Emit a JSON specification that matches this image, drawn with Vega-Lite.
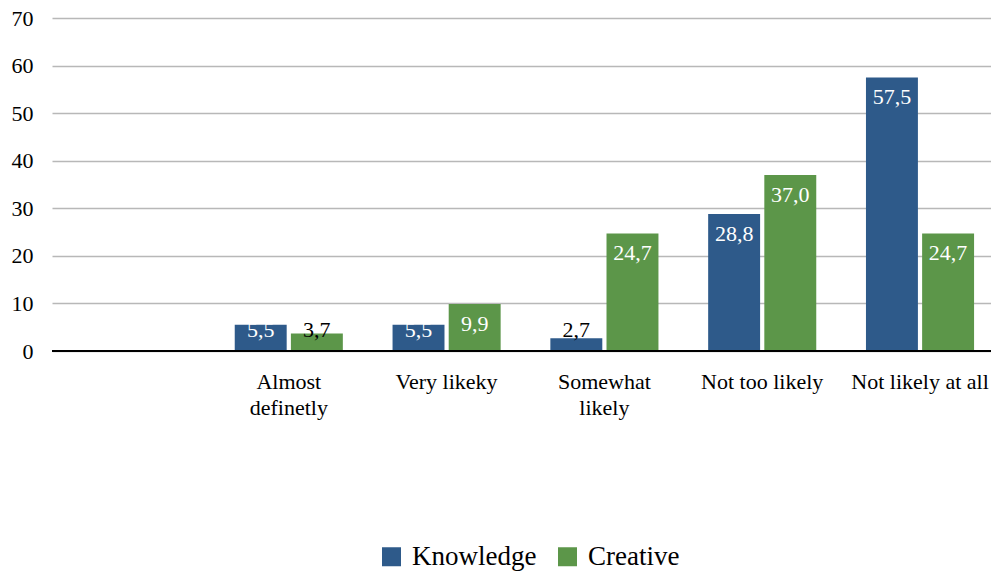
{
  "$schema": "https://vega.github.io/schema/vega-lite/v6.json",
  "width": 947,
  "height": 333,
  "autosize": {"type": "none"},
  "padding": {"left": 52, "top": 18, "right": 0, "bottom": 222},
  "background": "white",
  "data": {
    "values": [
      {"category": "Almost definetly", "group": "Knowledge", "value": 5.5},
      {"category": "Almost definetly", "group": "Creative", "value": 3.7},
      {"category": "Very likeky", "group": "Knowledge", "value": 5.5},
      {"category": "Very likeky", "group": "Creative", "value": 9.9},
      {"category": "Somewhat likely", "group": "Knowledge", "value": 2.7},
      {"category": "Somewhat likely", "group": "Creative", "value": 24.7},
      {"category": "Not too likely", "group": "Knowledge", "value": 28.8},
      {"category": "Not too likely", "group": "Creative", "value": 37.0},
      {"category": "Not likely at all", "group": "Knowledge", "value": 57.5},
      {"category": "Not likely at all", "group": "Creative", "value": 24.7}
    ]
  },
  "transform": [
    {"calculate": "replace(format(datum.value, '.1f'), '.', ',')", "as": "label"},
    {"calculate": "max(datum.value, 8.6)", "as": "labelY"}
  ],
  "encoding": {
    "x": {
      "field": "category",
      "type": "nominal",
      "sort": null,
      "scale": {
        "domain": [" ", "Almost definetly", "Very likeky", "Somewhat likely", "Not too likely", "Not likely at all"],
        "paddingInner": 0.315,
        "paddingOuter": 0.158
      },
      "axis": {
        "title": null,
        "labelAngle": 0,
        "domain": false,
        "ticks": false,
        "labelFont": "Liberation Serif",
        "labelFontSize": 22,
        "labelColor": "#000000",
        "labelPadding": 20,
        "labelLineHeight": 26,
        "labelBaseline": "top",
        "labelExpr": "datum.value == 'Almost definetly' ? ['Almost', 'definetly'] : datum.value == 'Somewhat likely' ? ['Somewhat', 'likely'] : datum.value"
      }
    },
    "xOffset": {
      "field": "group",
      "type": "nominal",
      "sort": ["Knowledge", "Creative"],
      "scale": {"paddingInner": 0.075, "paddingOuter": 0}
    }
  },
  "layer": [
    {
      "mark": {"type": "bar"},
      "encoding": {
        "y": {
          "field": "value",
          "type": "quantitative",
          "scale": {"domain": [0, 70], "nice": false},
          "axis": {
            "title": null,
            "values": [0, 10, 20, 30, 40, 50, 60, 70],
            "domain": false,
            "ticks": false,
            "grid": true,
            "gridColor": "#B8B8B8",
            "gridWidth": 1.6,
            "labelFont": "Liberation Serif",
            "labelFontSize": 22,
            "labelColor": "#000000",
            "labelPadding": 19
          }
        },
        "color": {
          "field": "group",
          "type": "nominal",
          "sort": ["Knowledge", "Creative"],
          "scale": {"domain": ["Knowledge", "Creative"], "range": ["#2E5A8A", "#5C9649"]},
          "legend": {
            "title": null,
            "orient": "none",
            "direction": "horizontal",
            "legendX": 326,
            "legendY": 525,
            "symbolType": "square",
            "symbolSize": 361,
            "symbolStrokeWidth": 0,
            "symbolOpacity": 1,
            "labelFont": "Liberation Serif",
            "labelFontSize": 27,
            "labelColor": "#000000",
            "labelOffset": 7,
            "columnPadding": 17,
            "padding": 0
          }
        }
      }
    },
    {
      "mark": {"type": "rule", "color": "#000000", "strokeWidth": 2},
      "encoding": {
        "y": {"datum": 0, "type": "quantitative"},
        "x": {"value": 0},
        "x2": {"value": 947},
        "xOffset": null
      }
    },
    {
      "mark": {"type": "text", "font": "Liberation Serif", "fontSize": 22, "dy": 20, "baseline": "middle"},
      "encoding": {
        "y": {"field": "labelY", "type": "quantitative"},
        "text": {"field": "label"},
        "color": {
          "condition": {"test": "datum.value < 5", "value": "#000000"},
          "value": "#FFFFFF"
        }
      }
    }
  ],
  "config": {
    "view": {"stroke": null},
    "axis": {"gridCap": "butt"}
  }
}
